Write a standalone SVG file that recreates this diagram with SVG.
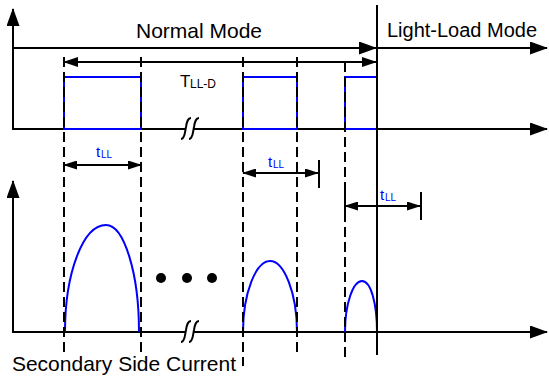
<svg xmlns="http://www.w3.org/2000/svg" width="549" height="377" viewBox="0 0 549 377">
<style>
.ln{stroke:#000;stroke-width:2;fill:none}
.dash{stroke:#000;stroke-width:2;fill:none;stroke-dasharray:10 5}
.blue{stroke:#0000FF;stroke-width:2;fill:none}
.txt{font-family:"Liberation Sans",Arial,sans-serif;fill:#000}
.btxt{font-family:"Liberation Sans",Arial,sans-serif;fill:#0000FF}
</style>
<defs>
<marker id="ahBig" markerUnits="userSpaceOnUse" markerWidth="18" markerHeight="13" refX="17" refY="6.5" orient="auto-start-reverse">
<path d="M0,0 L18,6.5 L0,13 Z" fill="#000"/>
</marker>
<marker id="ahMid" markerUnits="userSpaceOnUse" markerWidth="15" markerHeight="10" refX="14" refY="5" orient="auto-start-reverse">
<path d="M0,0 L15,5 L0,10 Z" fill="#000"/>
</marker>
<marker id="ahSm" markerUnits="userSpaceOnUse" markerWidth="14" markerHeight="9" refX="13" refY="4.5" orient="auto-start-reverse">
<path d="M0,0 L14,4.5 L0,9 Z" fill="#000"/>
</marker>
</defs>

<g id="top-axes">
<line class="ln" x1="13" y1="130" x2="13" y2="9" marker-end="url(#ahBig)"/>
<line class="ln" x1="12" y1="129" x2="186" y2="129"/>
<line class="ln" x1="194" y1="129" x2="547" y2="129" marker-end="url(#ahBig)"/>
<path class="ln" d="M181,139 C185,139 185,131 186,127 C187,121 188,118 191,118"/>
<path class="ln" d="M189,139 C193,139 193,131 194,127 C195,121 196,118 199,118"/>
</g>

<g id="bottom-axes">
<line class="ln" x1="13" y1="333" x2="13" y2="181" marker-end="url(#ahBig)"/>
<line class="ln" x1="12" y1="332" x2="186" y2="332"/>
<line class="ln" x1="194" y1="332" x2="547" y2="332" marker-end="url(#ahBig)"/>
<path class="ln" d="M181,342 C185,342 185,334 186,330 C187,324 188,321 191,321"/>
<path class="ln" d="M189,342 C193,342 193,334 194,330 C195,324 196,321 199,321"/>
</g>

<g id="mode-arrows">
<line class="ln" x1="13" y1="48" x2="376" y2="48" marker-end="url(#ahBig)"/>
<line class="ln" x1="377" y1="48" x2="547" y2="48" marker-end="url(#ahBig)"/>
<text class="txt" x="199" y="38" font-size="21" text-anchor="middle">Normal Mode</text>
<text class="txt" x="462" y="37" font-size="20" text-anchor="middle">Light-Load Mode</text>
</g>

<g id="pulses">
<rect class="blue" x="64" y="77" width="77" height="52"/>
<rect class="blue" x="243" y="77" width="54" height="52"/>
<rect class="blue" x="345" y="77" width="32" height="52"/>
</g>

<g id="currents">
<path class="blue" d="M65,332 C65,273 83,225 106,225 C124,225 139,273 139,332"/>
<path class="blue" d="M243,332 C243,293 256,261 270,261 C284,261 297,293 297,332"/>
<path class="blue" d="M345,332 C345,304 353,281 362,281 C371,281 377,304 377,332"/>
<circle cx="161" cy="278" r="5" fill="#000"/>
<circle cx="187" cy="278" r="5" fill="#000"/>
<circle cx="212" cy="278" r="5" fill="#000"/>
</g>

<g id="connectors">
<line class="dash" x1="64" y1="57" x2="64" y2="356"/>
<line class="dash" x1="141" y1="57" x2="141" y2="352"/>
<line class="dash" x1="243" y1="57" x2="243" y2="366"/>
<line class="dash" x1="297" y1="57" x2="297" y2="356"/>
<line class="dash" x1="345" y1="62" x2="345" y2="360"/>
<line class="ln" x1="377" y1="5" x2="377" y2="355"/>
<line class="ln" x1="64" y1="62" x2="376" y2="62" marker-start="url(#ahMid)" marker-end="url(#ahMid)"/>
<line class="ln" x1="64" y1="165" x2="141" y2="165" marker-start="url(#ahSm)" marker-end="url(#ahSm)"/>
<line class="ln" x1="243" y1="173" x2="318" y2="173" marker-start="url(#ahSm)" marker-end="url(#ahSm)"/>
<line class="ln" x1="319" y1="160" x2="319" y2="188"/>
<line class="ln" x1="345" y1="206" x2="420" y2="206" marker-start="url(#ahSm)" marker-end="url(#ahSm)"/>
<line class="ln" x1="421" y1="192" x2="421" y2="220"/>
<line class="ln" x1="345" y1="192" x2="345" y2="220"/>
</g>

<g id="labels">
<text class="txt" x="180" y="87" font-size="17">T</text>
<text class="txt" x="190" y="88" font-size="12">LL-D</text>
<text class="btxt" x="96" y="157" font-size="15">t</text>
<text class="btxt" x="101" y="158" font-size="10">LL</text>
<text class="btxt" x="268" y="167" font-size="15">t</text>
<text class="btxt" x="273" y="168" font-size="10">LL</text>
<text class="btxt" x="380" y="200" font-size="15">t</text>
<text class="btxt" x="385" y="201" font-size="10">LL</text>
<text class="txt" x="124" y="371" font-size="21" text-anchor="middle">Secondary Side Current</text>
</g>
</svg>
